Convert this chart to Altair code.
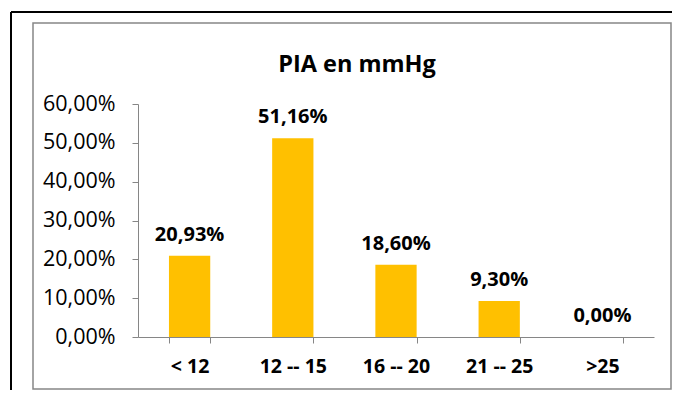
import altair as alt
import pandas as pd

categories = ["< 12", "12 -- 15", "16 -- 20", "21 -- 25", ">25"]
values = [20.93, 51.16, 18.60, 9.30, 0.00]
labels = ["20,93%", "51,16%", "18,60%", "9,30%", "0,00%"]
title_text = "PIA en mmHg"

df = pd.DataFrame({"cat": categories, "val": values, "lab": labels})

FONT = "Open Sans"
GRAY = "#868686"

x = alt.X("cat:N", sort=categories, title=None,
          scale=alt.Scale(paddingInner=0.6, paddingOuter=0.3),
          axis=alt.Axis(labelAngle=0, labelFontWeight="bold", labelFontSize=19.5,
                        labelFont=FONT, labelColor="black", domainColor=GRAY,
                        tickColor=GRAY, tickSize=6, tickBand="extent",
                        labelPadding=14, labelBaseline="top", labelOverlap=False))
y = alt.Y("val:Q", title=None,
          scale=alt.Scale(domain=[0, 60], nice=False),
          axis=alt.Axis(values=[0, 10, 20, 30, 40, 50, 60], grid=False,
                        labelExpr="replace(format(datum.value, '.2f'), '.', ',') + '%'",
                        labelFont=FONT, labelFontSize=21.5, labelColor="black",
                        domainColor=GRAY, tickColor=GRAY, tickSize=6,
                        labelPadding=17, labelOverlap=False))

base = alt.Chart(df)
bars = base.mark_bar(color="#FFC000").encode(x=x, y=y)
text = base.mark_text(font=FONT, fontSize=20, fontWeight="bold", baseline="alphabetic",
                      dy=-15, color="black").encode(x=x, y=y, text="lab:N")

frame_data = alt.Data(values=[{"t": title_text}])
top_line = alt.Chart(frame_data).mark_rule(color="black", strokeWidth=2).encode(
    x=alt.value(-127), x2=alt.value(534), y=alt.value(-92))
left_line = alt.Chart(frame_data).mark_rule(color="black", strokeWidth=2).encode(
    x=alt.value(-127), y=alt.value(-92), y2=alt.value(286))
inner = alt.Chart(frame_data).mark_rect(fill=None, stroke=GRAY, strokeWidth=1.5).encode(
    x=alt.value(-105), x2=alt.value(533), y=alt.value(-81), y2=alt.value(285))
title = alt.Chart(frame_data).mark_text(font=FONT, fontSize=23.5, fontWeight="bold",
                                        baseline="alphabetic", align="center", color="black").encode(
    x=alt.value(219), y=alt.value(-32), text="t:N")

chart = alt.layer(top_line, left_line, inner, bars, text, title).properties(
    width=516, height=233,
    autosize=alt.AutoSizeParams(type="none"),
    padding={"left": 130, "top": 96, "right": 18, "bottom": 53},
    background="white",
).configure_view(stroke=None)

chart.save("out.html", embed_options={"renderer": "svg", "actions": False})
